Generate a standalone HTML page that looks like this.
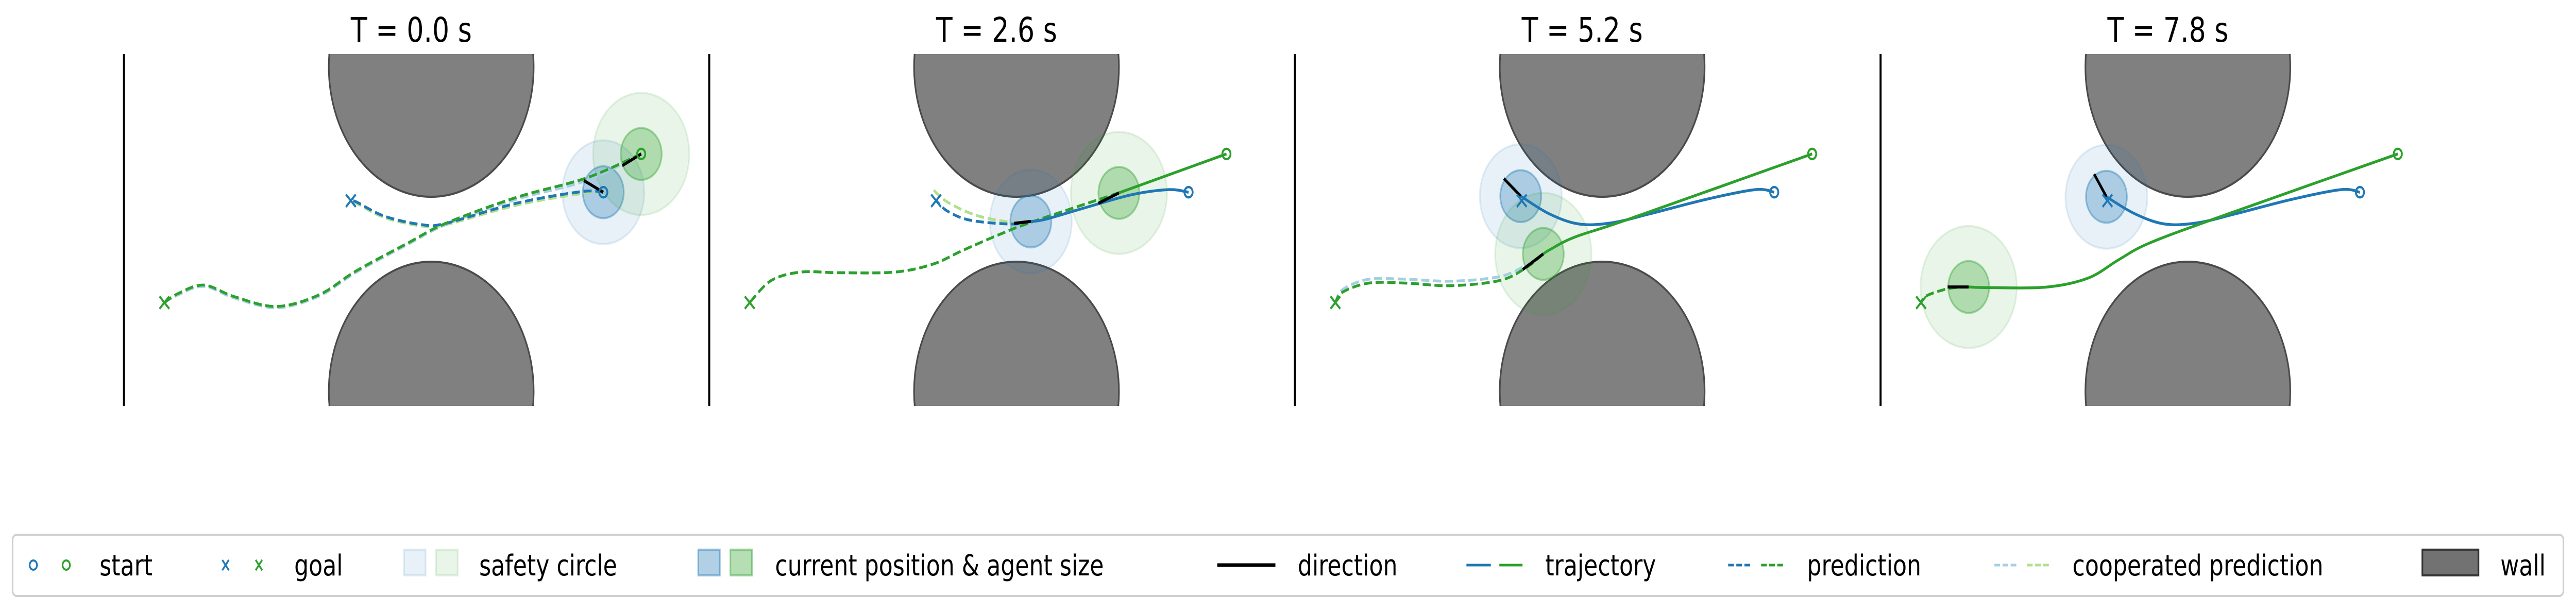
<!DOCTYPE html>
<html><head><meta charset="utf-8">
<style>
html,body{margin:0;padding:0;background:#fff;width:100%;height:100%;overflow:hidden;}
svg{display:block;width:100vw;height:100vh;font-family:"DejaVu Sans","Liberation Sans",sans-serif;}
</style></head><body>
<svg id="chart" viewBox="0 0 6338 1190" preserveAspectRatio="none" xmlns="http://www.w3.org/2000/svg">
<g id="panels"></g>
<g id="legend">
  <rect x="31" y="1038" width="6276" height="119" rx="10" fill="#fff" stroke="#d0d0d0" stroke-width="4"/>
  <circle cx="82" cy="1097" r="9" fill="none" stroke="#1f77b4" stroke-width="4"/>
  <circle cx="163" cy="1097" r="9" fill="none" stroke="#2ca02c" stroke-width="4"/>
  <text x="245" y="1117" font-size="56">start</text>
  <path d="M547 1087L563 1107M563 1087L547 1107" stroke="#1f77b4" stroke-width="4"/>
  <path d="M629 1087L645 1107M645 1087L629 1107" stroke="#2ca02c" stroke-width="4"/>
  <text x="724" y="1117" font-size="56">goal</text>
  <rect x="994" y="1067" width="53" height="50" fill="rgba(31,119,180,0.1)" stroke="rgba(31,119,180,0.15)" stroke-width="4"/>
  <rect x="1073" y="1067" width="53" height="50" fill="rgba(44,160,44,0.1)" stroke="rgba(44,160,44,0.15)" stroke-width="4"/>
  <text x="1179" y="1117" font-size="56">safety circle</text>
  <rect x="1718" y="1067" width="53" height="50" fill="rgba(31,119,180,0.35)" stroke="rgba(31,119,180,0.45)" stroke-width="4"/>
  <rect x="1797" y="1067" width="53" height="50" fill="rgba(44,160,44,0.35)" stroke="rgba(44,160,44,0.45)" stroke-width="4"/>
  <text x="1907" y="1117" font-size="56">current position &amp; agent size</text>
  <line x1="2995" y1="1097" x2="3138" y2="1097" stroke="#000" stroke-width="7"/>
  <text x="3193" y="1117" font-size="56">direction</text>
  <line x1="3608" y1="1097" x2="3668" y2="1097" stroke="#1f77b4" stroke-width="5"/>
  <line x1="3689" y1="1097" x2="3746" y2="1097" stroke="#2ca02c" stroke-width="5"/>
  <text x="3802" y="1117" font-size="56">trajectory</text>
  <line x1="4252" y1="1097" x2="4308" y2="1097" stroke="#1f77b4" stroke-width="5" stroke-dasharray="14 6"/>
  <line x1="4333" y1="1097" x2="4390" y2="1097" stroke="#2ca02c" stroke-width="5" stroke-dasharray="14 6"/>
  <text x="4446" y="1117" font-size="56">prediction</text>
  <line x1="4907" y1="1097" x2="4963" y2="1097" stroke="#a6cee3" stroke-width="5" stroke-dasharray="14 6"/>
  <line x1="4987" y1="1097" x2="5043" y2="1097" stroke="#b2df8a" stroke-width="5" stroke-dasharray="14 6"/>
  <text x="5099" y="1117" font-size="56">cooperated prediction</text>
  <rect x="5960" y="1067" width="138" height="50" fill="#727272" stroke="#333" stroke-width="4"/>
  <text x="6152" y="1117" font-size="56">wall</text>
</g>
</svg>
<script>
// ---- data (units: metres-ish, origin at left wall / gap centre) ----
const times = ["T = 0.0 s","T = 2.6 s","T = 5.2 s","T = 7.8 s"];
const obstacleX = [6.0, 6.0];
const obstacleY = [2.5, -2.5];
const obstacleR = 2.0;
const blueStart = [9.36, 0.57];
const greenStart = [10.1, 1.16];
const blueGoal = [4.43, 0.44];
const greenGoal = [0.79, -1.13];
const agentR = 0.4;
const blueSafeR = 0.8;
const greenSafeR = 0.94;
const blueCurrent = [[9.36,0.57],[6.28,0.12],[4.41,0.51],[4.41,0.50]];
const greenCurrent = [[10.1,1.16],[8.0,0.56],[4.85,-0.38],[1.72,-0.89]];
const blueDir = [[8.98,0.75],[5.95,0.09],[4.08,0.78],[4.17,0.85]];
const greenDir = [[9.73,0.98],[7.6,0.4],[4.45,-0.62],[1.31,-0.89]];
const blueTraj = [
  [],
  [[9.36,0.57],[8.97,0.61],[8.24,0.53],[7.29,0.32],[6.55,0.15],[6.28,0.12]],
  [[9.36,0.57],[8.99,0.61],[8.03,0.46],[6.94,0.24],[6.2,0.1],[5.55,0.08],[4.96,0.24],[4.41,0.51]],
  [[9.36,0.57],[8.99,0.61],[8.03,0.46],[6.94,0.24],[6.2,0.1],[5.55,0.08],[4.96,0.24],[4.41,0.50]]
];
const greenTraj = [
  [],
  [[10.1,1.16],[8.0,0.56]],
  [[10.1,1.16],[6.57,0.17],[5.47,-0.12],[4.99,-0.31],[4.85,-0.38]],
  [[10.1,1.16],[6.55,0.17],[5.23,-0.22],[4.65,-0.47],[4.06,-0.75],[3.26,-0.89],[2.16,-0.9],[1.72,-0.89]]
];
const bluePred = [
  [[9.36,0.57],[8.94,0.58],[7.66,0.40],[6.28,0.09],[5.82,0.07],[5.09,0.20],[4.54,0.42],[4.43,0.44]],
  [[6.28,0.12],[5.89,0.08],[5.09,0.14],[4.65,0.28],[4.43,0.44]],
  [],[]
];
const greenPred = [
  [[10.1,1.16],[9.03,0.79],[7.66,0.49],[6.28,0.09],[5.55,-0.21],[4.54,-0.64],[3.81,-1.01],[2.98,-1.19],[2.16,-1.04],[1.56,-0.86],[1.06,-0.99],[0.79,-1.13]],
  [[8.0,0.56],[6.33,0.12],[5.67,-0.08],[4.94,-0.33],[4.36,-0.54],[3.62,-0.66],[2.52,-0.67],[1.79,-0.66],[1.21,-0.79],[0.79,-1.13]],
  [[4.85,-0.38],[4.52,-0.59],[4.0,-0.79],[3.05,-0.87],[2.17,-0.83],[1.44,-0.83],[0.93,-0.97],[0.79,-1.13]],
  [[1.72,-0.89],[1.35,-0.91],[0.91,-1.02],[0.79,-1.13]]
];
const blueCoop = [
  [[10.1,1.16],[9.03,0.75],[7.66,0.46],[6.28,0.07],[5.55,-0.23],[4.54,-0.66],[3.81,-1.03],[2.98,-1.21],[2.16,-1.06],[1.56,-0.88],[1.06,-1.01],[0.79,-1.13]],
  [[8.0,0.56],[6.33,0.12],[5.67,-0.08],[4.94,-0.33],[4.36,-0.54],[3.62,-0.66],[2.52,-0.67],[1.79,-0.66],[1.21,-0.79],[0.79,-1.13]],
  [[4.85,-0.38],[4.52,-0.55],[4.0,-0.73],[3.05,-0.8],[2.17,-0.77],[1.44,-0.77],[0.93,-0.93],[0.79,-1.13]],
  []
];
const greenCoop = [
  [[9.36,0.57],[8.94,0.55],[7.66,0.37],[6.28,0.07],[5.82,0.05],[5.09,0.18],[4.54,0.40],[4.43,0.44]],
  [[6.28,0.12],[5.97,0.10],[5.23,0.21],[4.65,0.42],[4.35,0.63]],
  [],[]
];

// ---- scales ----
const panelLeft = [305, 1745, 3186, 4627];
const PX = 126, Y0 = 445, AX_TOP = 105, AX_BOT = 788, AX_W = 1420;
function sx(p, u){ return panelLeft[p] + u*PX; }
function sy(v){ return Y0 - v*PX; }
const NS = "http://www.w3.org/2000/svg";
function mk(tag, attrs, parent){ const e=document.createElementNS(NS,tag); for(const k in attrs) e.setAttribute(k,attrs[k]); parent.appendChild(e); return e; }
function pathD(p, pts){
  if(pts.length<2) return "";
  const P = pts.map(q=>[sx(p,q[0]), sy(q[1])]);
  let d = "M"+P[0][0].toFixed(1)+" "+P[0][1].toFixed(1);
  for(let i=0;i<P.length-1;i++){
    const p0=P[Math.max(0,i-1)], p1=P[i], p2=P[i+1], p3=P[Math.min(P.length-1,i+2)];
    const c1=[p1[0]+(p2[0]-p0[0])/6, p1[1]+(p2[1]-p0[1])/6];
    const c2=[p2[0]-(p3[0]-p1[0])/6, p2[1]-(p3[1]-p1[1])/6];
    d += " C"+c1[0].toFixed(1)+" "+c1[1].toFixed(1)+" "+c2[0].toFixed(1)+" "+c2[1].toFixed(1)+" "+p2[0].toFixed(1)+" "+p2[1].toFixed(1);
  }
  return d;
}
const root = document.getElementById("panels");
const defs = mk("defs", {}, root);
for(let p=0;p<4;p++){
  const cp = mk("clipPath", {id:"clip"+p}, defs);
  mk("rect", {x:panelLeft[p], y:AX_TOP, width:AX_W, height:AX_BOT-AX_TOP}, cp);
  const g = mk("g", {"clip-path":"url(#clip"+p+")"}, root);
  
  
  const title = mk("text", {x:panelLeft[p]+707, y:81, "font-size":66, "text-anchor":"middle"}, root);
  title.textContent = times[p];
  
  
  const wl = mk("line", {x1:panelLeft[p], y1:AX_TOP, x2:panelLeft[p], y2:AX_BOT, stroke:"#000", "stroke-width":5}, root);
  
  
  for(let k=0;k<obstacleX.length;k++){
    const o = mk("circle", {cx:sx(p,obstacleX[k]), cy:sy(obstacleY[k]), r:obstacleR*PX, fill:"#808080", stroke:"#4a4a4a", "stroke-width":4}, g);
    
    
  }
  const circ = [[blueCurrent[p], blueSafeR, "31,119,180"], [greenCurrent[p], greenSafeR, "44,160,44"]];
  for(const c of circ){
    const s = mk("circle", {cx:sx(p,c[0][0]), cy:sy(c[0][1]), r:c[1]*PX, fill:"rgba("+c[2]+",0.1)", stroke:"rgba("+c[2]+",0.12)", "stroke-width":4}, g);
    
    
    const a = mk("circle", {cx:sx(p,c[0][0]), cy:sy(c[0][1]), r:agentR*PX, fill:"rgba("+c[2]+",0.3)", stroke:"rgba("+c[2]+",0.4)", "stroke-width":4}, g);
    
    
  }
  const lines = [
    [greenCoop[p], "#b2df8a", true, 'cooperated-prediction-green'],
    [blueCoop[p], "#a6cee3", true, 'cooperated-prediction-blue'],
    [bluePred[p], "#1f77b4", true, 'prediction-blue'],
    [greenPred[p], "#2ca02c", true, 'prediction-green'],
    [blueTraj[p], "#1f77b4", false, 'trajectory-blue'],
    [greenTraj[p], "#2ca02c", false, 'trajectory-green']
  ];
  for(const L of lines){
    if(L[0].length<2) continue;
    const a = {d:pathD(p,L[0]), fill:"none", stroke:L[1], "stroke-width":5.5};
    if(L[2]) a["stroke-dasharray"]="20 9";
    const e = mk("path", a, g);
    
    
  }
  const dirs = [[blueCurrent[p], blueDir[p]], [greenCurrent[p], greenDir[p]]];
  for(const d of dirs){
    const e = mk("line", {x1:sx(p,d[0][0]), y1:sy(d[0][1]), x2:sx(p,d[1][0]), y2:sy(d[1][1]), stroke:"#000", "stroke-width":6}, g);
    
    
  }
  const starts = [[blueStart,"#1f77b4"],[greenStart,"#2ca02c"]];
  for(const s of starts){
    const e = mk("circle", {cx:sx(p,s[0][0]), cy:sy(s[0][1]), r:10, fill:"none", stroke:s[1], "stroke-width":4.5}, g);
    
    
  }
  const goals = [[blueGoal,"#1f77b4"],[greenGoal,"#2ca02c"]];
  for(const s of goals){
    const x=sx(p,s[0][0]), y=sy(s[0][1]), h=12;
    const e = mk("path", {d:"M"+(x-h)+" "+(y-h)+"L"+(x+h)+" "+(y+h)+"M"+(x+h)+" "+(y-h)+"L"+(x-h)+" "+(y+h), stroke:s[1], "stroke-width":4.5}, g);
    
    
  }
}
</script>
</body></html>
